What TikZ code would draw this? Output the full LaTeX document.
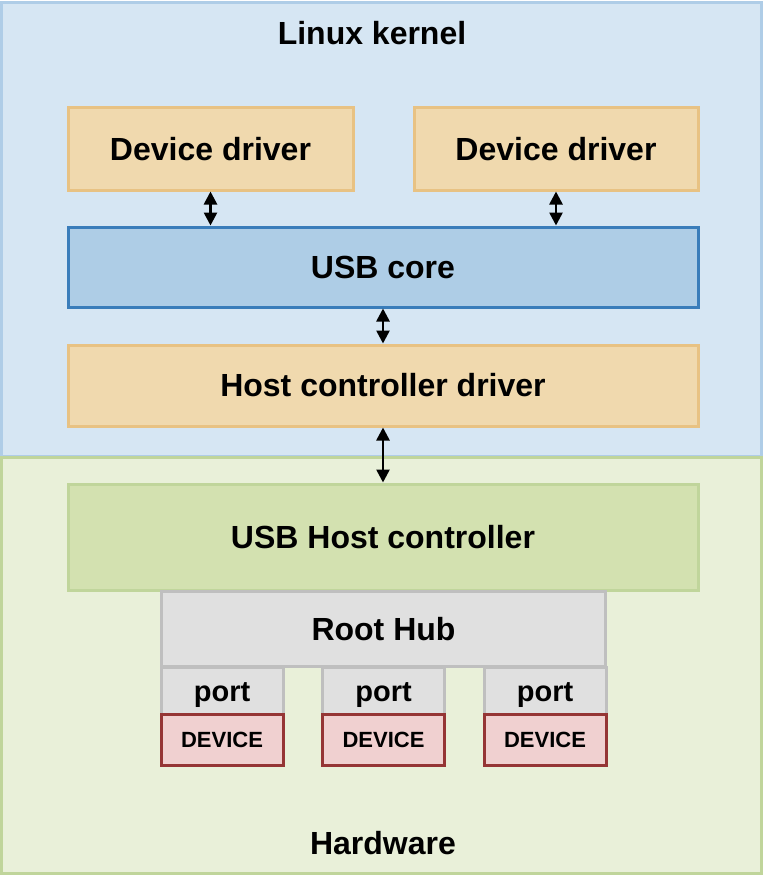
\documentclass[tikz,border=0pt]{standalone}
\usepackage{fontspec}
\setmainfont{Liberation Sans}
\usetikzlibrary{arrows.meta, positioning}

\definecolor{kernelfill}{HTML}{D6E6F3}
\definecolor{kerneldraw}{HTML}{AFCDE7}
\definecolor{hwfill}{HTML}{E9F0D9}
\definecolor{hwdraw}{HTML}{C0D59B}
\definecolor{drvfill}{HTML}{F0D9AE}
\definecolor{drvdraw}{HTML}{E8C283}
\definecolor{corefill}{HTML}{AECDE6}
\definecolor{coredraw}{HTML}{3A7DBA}
\definecolor{hcfill}{HTML}{D3E1B0}
\definecolor{hubfill}{HTML}{E0E0E0}
\definecolor{hubdraw}{HTML}{BFBFBF}
\definecolor{devfill}{HTML}{F0D0D0}
\definecolor{devdraw}{HTML}{953535}

\tikzset{
    box/.style={draw, line width=1.5pt, inner sep=0pt, font=\fontsize{16}{19}\selectfont\bfseries},
    drvbox/.style={box, fill=drvfill, draw=drvdraw, minimum height=41pt},
    hubbox/.style={box, fill=hubfill, draw=hubdraw},
    portbox/.style={hubbox, minimum width=61pt, minimum height=23.5pt, text height=11pt, text depth=0pt, font=\fontsize{14.5}{17}\selectfont\bfseries},
    devbox/.style={box, fill=devfill, draw=devdraw, minimum width=61pt, minimum height=25.5pt, font=\fontsize{11}{13}\selectfont\bfseries},
    link/.style={line width=1.3pt, {Triangle[length=6.5pt,width=6.5pt]}-{Triangle[length=6.5pt,width=6.5pt]}}
}

\begin{document}
\begin{tikzpicture}[x=0.5pt, y=-0.5pt]
    \useasboundingbox (0,0) rectangle (762,883);

    % Layers
    \node[box, fill=kernelfill, draw=kerneldraw, minimum width=380pt, minimum height=226.5pt] (kernel) at (381,229.5) {};
    \node[box, fill=hwfill, draw=hwdraw, minimum width=380pt, minimum height=208pt] (hw) at (381,665) {};
    \node[box, draw=none] (kerneltitle) at (372,33) {Linux kernel};
    \node[box, draw=none] (hwtitle) at (383,843) {Hardware};

    % Kernel side
    \node[drvbox, minimum width=142.5pt] (dd1) at (210.5,149) {Device driver};
    \node[drvbox, minimum width=142pt] (dd2) at (556,149) {Device driver};
    \node[box, fill=corefill, draw=coredraw, minimum width=315pt, minimum height=40pt] (core) at (383,267) {USB core};
    \node[drvbox, minimum width=315pt, minimum height=40.5pt] (hcd) at (383,385.5) {Host controller driver};

    % Hardware side
    \node[box, fill=hcfill, draw=hwdraw, minimum width=315pt, minimum height=53pt] (hc) at (383,537) {USB Host controller};
    \node[hubbox, minimum width=222pt, minimum height=37.5pt] (hub) at (383.5,629) {Root Hub};
    \node[portbox] (port1) at (222,690.5) {port};
    \node[portbox] (port2) at (383.5,690.5) {port};
    \node[portbox] (port3) at (545,690.5) {port};
    \node[devbox] (dev1) at (222,739.5) {DEVICE};
    \node[devbox] (dev2) at (383.5,739.5) {DEVICE};
    \node[devbox] (dev3) at (545,739.5) {DEVICE};

    % Links
    \draw[link] (dd1.south) -- (dd1.south |- core.north);
    \draw[link] (dd2.south) -- (dd2.south |- core.north);
    \draw[link] (core.south) -- (hcd.north);
    \draw[link] (hcd.south) -- (hc.north);
\end{tikzpicture}
\end{document}
